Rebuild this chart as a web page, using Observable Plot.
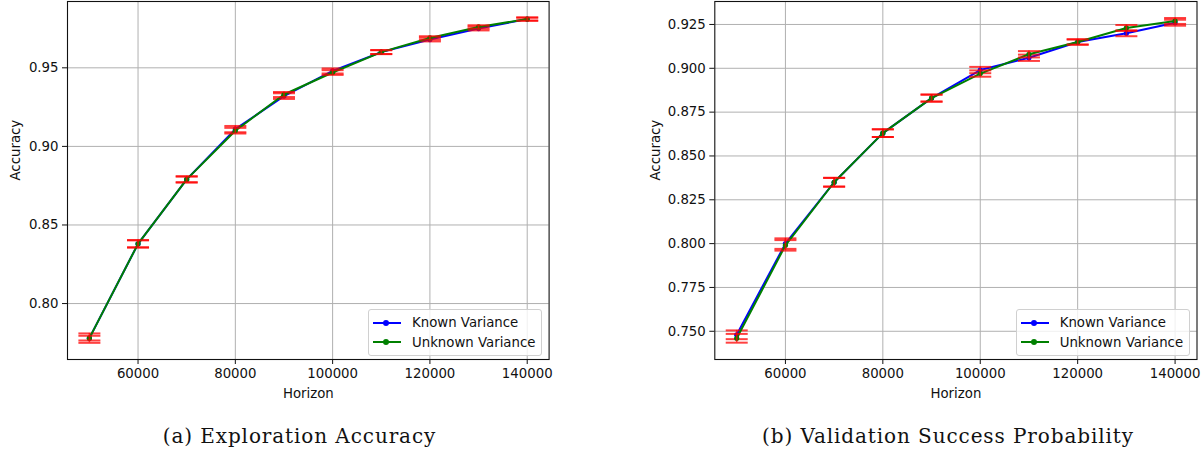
<!DOCTYPE html>
<html>
<head>
<meta charset="utf-8">
<script src="https://cdn.jsdelivr.net/npm/d3@7"></script>
<script src="https://cdn.jsdelivr.net/npm/@observablehq/plot@0.6"></script>
<style>
  html, body { margin: 0; padding: 0; background: #fff; }
  #root { position: relative; width: 1204px; height: 453px; overflow: hidden; }
  .panel { position: absolute; top: 0; width: 602px; height: 405px; }
  .caption { position: absolute; top: 424px; font-family: "DejaVu Serif", serif; font-size: 20px; letter-spacing: 0.9px; line-height: 24px; color: #111; white-space: nowrap; }
  .legend { position: absolute; border: 1px solid #d0d0d0; border-radius: 3px; background: rgba(255,255,255,0.8); font-family: "DejaVu Sans", sans-serif; font-size: 13.3px; color: #111; padding: 3px 0 3px 0; box-sizing: border-box; }
  .legend .row { position: relative; height: 19.5px; line-height: 19.5px; padding-left: 43px; padding-right: 6px; }
  .legend .swatch { position: absolute; left: 4px; top: 50%; width: 28px; height: 2px; margin-top: -1px; }
  .legend .dot { position: absolute; left: 14px; top: 50%; width: 6px; height: 6px; margin-top: -3px; border-radius: 50%; }
</style>
</head>
<body>
<div id="root"></div>
<script>
// ---- data ----
const horizons = [50000, 60000, 70000, 80000, 90000, 100000, 110000, 120000, 130000, 140000];

const explorationKnown   = [0.778, 0.838, 0.879, 0.911, 0.932, 0.948, 0.960, 0.968, 0.975, 0.981];
const explorationUnknown = [0.778, 0.838, 0.879, 0.910, 0.933, 0.947, 0.960, 0.969, 0.976, 0.981];
const explorationKnownErr   = [0.0030, 0.0024, 0.0020, 0.0020, 0.0018, 0.0016, 0.0013, 0.0012, 0.0012, 0.0010];
const explorationUnknownErr = [0.0015, 0.0022, 0.0018, 0.0018, 0.0016, 0.0015, 0.0012, 0.0011, 0.0011, 0.0010];

const validationKnown   = [0.748, 0.800, 0.835, 0.863, 0.883, 0.899, 0.906, 0.915, 0.920, 0.926];
const validationUnknown = [0.746, 0.799, 0.835, 0.863, 0.883, 0.897, 0.908, 0.915, 0.923, 0.927];
const validationKnownErr   = [0.0025, 0.0030, 0.0025, 0.0022, 0.0020, 0.0018, 0.0018, 0.0015, 0.0017, 0.0017];
const validationUnknownErr = [0.0025, 0.0030, 0.0025, 0.0022, 0.0020, 0.0018, 0.0018, 0.0015, 0.0017, 0.0017];

const xTicks = [60000, 80000, 100000, 120000, 140000];
const explorationYTicks = [0.80, 0.85, 0.90, 0.95];
const validationYTicks = [0.750, 0.775, 0.800, 0.825, 0.850, 0.875, 0.900, 0.925];

const seriesNames = ["Known Variance", "Unknown Variance"];
const seriesColors = ["blue", "green"];
const captions = ["(a) Exploration Accuracy", "(b) Validation Success Probability"];
const xLabel = "Horizon";
const yLabel = "Accuracy";

// ---- drawing ----
const capSymbol = { draw(ctx, size) { ctx.moveTo(-11, 0); ctx.lineTo(11, 0); } };

function rows(values, errs) {
  return horizons.map((h, i) => ({ h, v: values[i], lo: values[i] - errs[i], hi: values[i] + errs[i] }));
}

function errMarks(data) {
  return [
    Plot.ruleX(data, { x: "h", y1: "lo", y2: "hi", stroke: "red", strokeOpacity: 0.75, strokeWidth: 1.6 }),
    Plot.dot(data, { x: "h", y: "lo", symbol: capSymbol, stroke: "red", strokeOpacity: 0.75, strokeWidth: 2, fill: "none" }),
    Plot.dot(data, { x: "h", y: "hi", symbol: capSymbol, stroke: "red", strokeOpacity: 0.75, strokeWidth: 2, fill: "none" })
  ];
}

function seriesMarks(data, color) {
  return [
    Plot.line(data, { x: "h", y: "v", stroke: color, strokeWidth: 2 }),
    Plot.dot(data, { x: "h", y: "v", fill: color, r: 2.6, stroke: "none" })
  ];
}

function panel({ known, unknown, kErr, uErr, yDomain, yTicks, yFormat, marginLeft, marginRight, yLabelDx }) {
  const kd = rows(known, kErr), ud = rows(unknown, uErr);
  return Plot.plot({
    width: 602, height: 405,
    marginLeft, marginRight, marginTop: 1, marginBottom: 46,
    style: { fontFamily: "'DejaVu Sans'", fontSize: "13.3px", color: "#111", background: "transparent" },
    x: { domain: [45500, 144500] },
    y: { domain: yDomain },
    marks: [
      Plot.gridX(xTicks, { stroke: "#b0b0b0", strokeOpacity: 1, strokeWidth: 1 }),
      Plot.gridY(yTicks, { stroke: "#b0b0b0", strokeOpacity: 1, strokeWidth: 1 }),
      ...seriesMarks(kd, seriesColors[0]),
      ...errMarks(kd),
      ...seriesMarks(ud, seriesColors[1]),
      ...errMarks(ud),
      Plot.frame({ stroke: "#111", strokeWidth: 1.1 }),
      Plot.axisX(xTicks, { tickSize: 5, tickPadding: 4, tickFormat: d3.format("d"), label: null, stroke: "#111" }),
      Plot.axisY(yTicks, { tickSize: 5, tickPadding: 4, tickFormat: d3.format(yFormat), label: null, stroke: "#111" }),
      Plot.text([xLabel], { frameAnchor: "bottom", dy: 34, text: d => d, lineAnchor: "middle", fill: "#111" }),
      Plot.text([yLabel], { frameAnchor: "left", dx: yLabelDx, rotate: -90, text: d => d, lineAnchor: "middle", fill: "#111" })
    ]
  });
}

const root = document.getElementById("root");

function addPanel(left, chart, captionText, captionCenter, legendLeft) {
  const div = document.createElement("div");
  div.className = "panel";
  div.style.left = left + "px";
  div.appendChild(chart);
  root.appendChild(div);

  const cap = document.createElement("div");
  cap.className = "caption";
  cap.textContent = captionText;
  root.appendChild(cap);
  const w = cap.getBoundingClientRect().width;
  cap.style.left = (captionCenter - w / 2) + "px";

  const lg = document.createElement("div");
  lg.className = "legend";
  lg.style.left = legendLeft + "px";
  lg.style.top = "309px";
  seriesNames.forEach((name, i) => {
    const r = document.createElement("div");
    r.className = "row";
    const sw = document.createElement("span"); sw.className = "swatch"; sw.style.background = seriesColors[i];
    const dt = document.createElement("span"); dt.className = "dot"; dt.style.background = seriesColors[i];
    r.appendChild(sw); r.appendChild(dt);
    r.appendChild(document.createTextNode(name));
    lg.appendChild(r);
  });
  root.appendChild(lg);
}

addPanel(0, panel({
  known: explorationKnown, unknown: explorationUnknown,
  kErr: explorationKnownErr, uErr: explorationUnknownErr,
  yDomain: [0.7644, 0.9922], yTicks: explorationYTicks, yFormat: ".2f",
  marginLeft: 67, marginRight: 53.4, yLabelDx: -52
}), captions[0], 299.5, 368);

addPanel(602, panel({
  known: validationKnown, unknown: validationUnknown,
  kErr: validationKnownErr, uErr: validationUnknownErr,
  yDomain: [0.7339, 0.9381], yTicks: validationYTicks, yFormat: ".3f",
  marginLeft: 112.3, marginRight: 7.5, yLabelDx: -59
}), captions[1], 948, 1015.7);
</script>
</body>
</html>
